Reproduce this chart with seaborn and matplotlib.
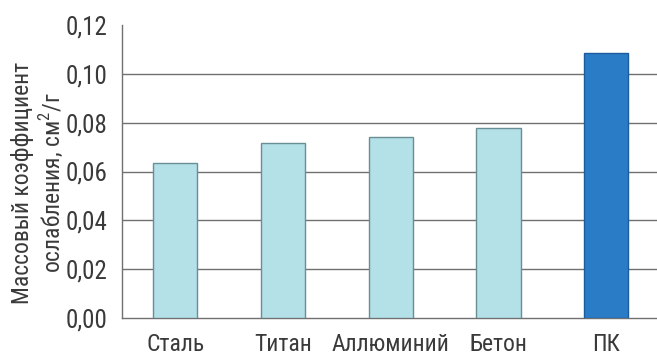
import matplotlib
matplotlib.use("Agg")
import matplotlib.pyplot as plt
from matplotlib import font_manager
import seaborn as sns
import pandas as pd

materials = ["Сталь", "Титан", "Аллюминий", "Бетон", "ПК"]
coefficients = [0.0635, 0.0717, 0.0742, 0.0778, 0.1085]
y_ticks = [0.00, 0.02, 0.04, 0.06, 0.08, 0.10, 0.12]
y_tick_labels = ["0,00", "0,02", "0,04", "0,06", "0,08", "0,10", "0,12"]
y_label = "Массовый коэффициент\nослабления, см$^2$/г"

light_fill = "#b4e0e8"
light_edge = "#6a8e96"
accent_fill = "#2a7cc6"
accent_edge = "#1b5c9c"
text_color = "#3a3a3a"
grid_color = "#707070"

sns.set_theme(style="white")

# prefer a narrow sans face when one is installed
names = sorted({f.name for f in font_manager.fontManager.ttflist})
preferred = ["Liberation Sans Narrow", "Arial Narrow", "Roboto Condensed",
             "Noto Sans Condensed", "Open Sans Condensed", "Noto Sans SemiCondensed"]
narrow = [n for n in preferred if n in names]
if not narrow:
    narrow = [n for n in names if ("Narrow" in n or "Condensed" in n)
              and "Serif" not in n and "Mono" not in n and "CJK" not in n][:1]
plt.rcParams["font.family"] = narrow + ["Liberation Sans", "DejaVu Sans"]
plt.rcParams["mathtext.fontset"] = "custom"
plt.rcParams["mathtext.rm"] = (narrow + ["Liberation Sans"])[0]

df = pd.DataFrame({"material": materials, "value": coefficients})
palette = {m: (accent_fill if m == "ПК" else light_fill) for m in materials}

fig = plt.figure(figsize=(6.57, 3.55), dpi=100)
ax = fig.add_axes([121.5 / 657, 37 / 355, (660 - 121.5) / 657, (318 - 25) / 355])

sns.barplot(data=df, x="material", y="value", hue="material", palette=palette,
            saturation=1, width=0.41, legend=False, ax=ax, zorder=3)
for patch, m in zip(ax.patches, materials):
    patch.set_edgecolor(accent_edge if m == "ПК" else light_edge)
    patch.set_linewidth(1.0)

ax.set_ylim(0, 0.12)
ax.set_xlim(-0.5, len(materials) - 0.5)
ax.set_yticks(y_ticks)
ax.set_yticklabels(y_tick_labels)
for y in y_ticks[1:-1]:
    ax.axhline(y, color=grid_color, lw=1.0, zorder=1)

# category separators on the baseline
ax.set_xticks(range(len(materials)))
ax.set_xticklabels(materials)
ax.set_xticks([i + 0.5 for i in range(len(materials) - 1)], minor=True)
ax.tick_params(axis="x", which="major", length=0, pad=11, labelsize=17, colors=text_color)
ax.tick_params(axis="x", which="minor", length=4, width=1, color=grid_color, direction="out")
ax.tick_params(axis="y", length=4, width=1, color=grid_color, direction="out",
               pad=6, labelsize=18, labelcolor=text_color)

for side in ["top", "right"]:
    ax.spines[side].set_visible(False)
for side in ["left", "bottom"]:
    ax.spines[side].set_color(grid_color)
    ax.spines[side].set_linewidth(1.0)

ax.set_xlabel("")
ax.set_ylabel("")
fig.text(38 / 657, 1 - 183 / 355, y_label, rotation=90, ha="center", va="center",
         fontsize=17, color=text_color, linespacing=1.1)

fig.savefig("out.png", dpi=100)
